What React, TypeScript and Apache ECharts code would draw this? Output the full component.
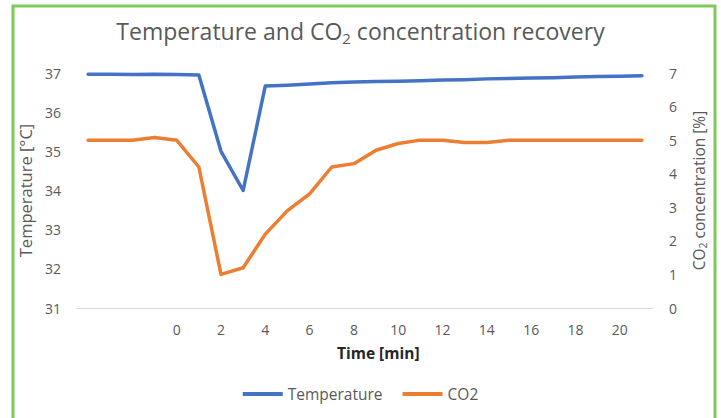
import React, { useEffect, useRef } from "react";
import * as echarts from "echarts";

const timeCategories = [-4, -3, -2, -1, 0, 1, 2, 3, 4, 5, 6, 7, 8, 9, 10, 11, 12, 13, 14, 15, 16, 17, 18, 19, 20, 21];
const temperature = [36.97, 36.97, 36.96, 36.97, 36.96, 36.95, 35.0, 34.0, 36.67, 36.69, 36.72, 36.75, 36.77, 36.78, 36.79, 36.8, 36.82, 36.83, 36.85, 36.86, 36.87, 36.88, 36.9, 36.91, 36.92, 36.93];
const co2 = [5.0, 5.0, 5.0, 5.08, 5.0, 4.2, 1.0, 1.2, 2.2, 2.9, 3.4, 4.2, 4.3, 4.7, 4.9, 5.0, 5.0, 4.93, 4.93, 5.0, 5.0, 5.0, 5.0, 5.0, 5.0, 5.0];

const FONT = "Open Sans";
const GREY = "#595959";

export default function App() {
  const ref = useRef<HTMLDivElement>(null);
  useEffect(() => {
    document.body.style.margin = "0";
    const chart = echarts.init(ref.current!, undefined, { renderer: "svg" });
    chart.setOption({
      animation: false,
      backgroundColor: "#ffffff",
      textStyle: { fontFamily: FONT },
      title: {
        text: "Temperature and CO{sub|2} concentration recovery",
        left: "center",
        top: 12,
        textStyle: {
          fontFamily: FONT,
          fontSize: 23,
          fontWeight: "normal",
          color: GREY,
          rich: {
            sub: { fontFamily: FONT, fontSize: 15, color: GREY, padding: [13, 0, 0, 0] },
          },
        },
      },
      grid: { left: 77, right: 68, top: 73, bottom: 110 },
      legend: {
        bottom: 11,
        left: "center",
        icon: "rect",
        itemWidth: 40,
        itemHeight: 4,
        itemGap: 20,
        textStyle: { fontFamily: FONT, fontSize: 15.5, color: GREY },
        data: ["Temperature", "CO2"],
      },
      xAxis: {
        type: "category",
        data: timeCategories,
        boundaryGap: true,
        axisLine: { lineStyle: { color: "#d9d9d9", width: 1 } },
        axisTick: { show: false },
        axisLabel: {
          interval: 1,
          fontFamily: FONT,
          fontSize: 14,
          color: GREY,
          margin: 14,
          formatter: (v: string) => (Number(v) < 0 ? "" : v),
        },
      },
      yAxis: [
        {
          type: "value",
          min: 31,
          max: 37,
          interval: 1,
          splitLine: { show: false },
          axisLine: { show: false },
          axisTick: { show: false },
          axisLabel: { fontFamily: FONT, fontSize: 14, color: GREY, margin: 16 },
          name: "Temperature [°C]",
          nameLocation: "middle",
          nameGap: 41,
          nameTextStyle: { fontFamily: FONT, fontSize: 16.5, color: GREY },
        },
        {
          type: "value",
          min: 0,
          max: 7,
          interval: 1,
          position: "right",
          splitLine: { show: false },
          axisLine: { show: false },
          axisTick: { show: false },
          axisLabel: { fontFamily: FONT, fontSize: 14, color: GREY, margin: 16 },
          name: "CO{sub|2} concentration [%]",
          nameLocation: "middle",
          nameGap: 36,
          nameRotate: 90,
          nameTextStyle: {
            fontFamily: FONT,
            fontSize: 15.5,
            color: GREY,
            rich: { sub: { fontFamily: FONT, fontSize: 10.5, color: GREY, padding: [8, 0, 0, 0] } },
          },
        },
      ],
      graphic: [
        {
          type: "text",
          left: 337,
          top: 345,
          style: { text: "Time [min]", fontFamily: FONT, fontSize: 15.5, fill: "#262626", fontWeight: "bold" },
        },
        {
          type: "rect",
          shape: { x: 13, y: 6, width: 702, height: 420 },
          style: { fill: "none", stroke: "#7DC95A", lineWidth: 3 },
          silent: true,
        },
      ],
      series: [
        {
          name: "Temperature",
          type: "line",
          data: temperature,
          yAxisIndex: 0,
          symbol: "none",
          lineStyle: { color: "#4472C4", width: 3.5, cap: "round", join: "round" },
          itemStyle: { color: "#4472C4" },
        },
        {
          name: "CO2",
          type: "line",
          data: co2,
          yAxisIndex: 1,
          symbol: "none",
          lineStyle: { color: "#ED7D31", width: 3.5, cap: "round", join: "round" },
          itemStyle: { color: "#ED7D31" },
        },
      ],
    });
    return () => chart.dispose();
  }, []);
  return <div ref={ref} style={{ width: 721, height: 418 }} />;
}
